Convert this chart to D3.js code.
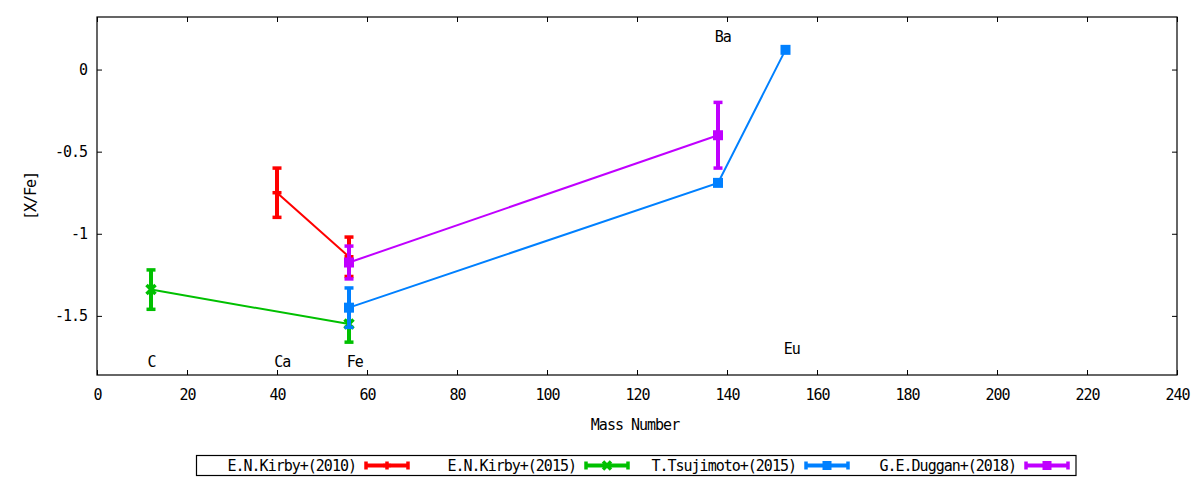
<!DOCTYPE html>
<html>
<head>
<meta charset="utf-8">
<script src="https://cdn.jsdelivr.net/npm/d3@7"></script>
<style>
  body { margin: 0; background: #fff; }
  text { font-family: "DejaVu Sans Mono", monospace; font-size: 15px; letter-spacing: -1px; fill: #000; }
</style>
</head>
<body>
<svg width="1200" height="480"></svg>
<script>
// element labels (placed at their mass numbers)
const elements = ["C", "Ca", "Fe", "Ba", "Eu"]
const labelMass = [11.2, 39.4, 55.5, 137.3, 152.6]
const labelValue = [-1.78, -1.78, -1.78, 0.2, -1.7]

// series
const seriesNames = ["E.N.Kirby+(2010)", "E.N.Kirby+(2015)", "T.Tsujimoto+(2015)", "G.E.Duggan+(2018)"]
const seriesColors = ["#ff0000", "#00c000", "#0080ff", "#c000ff"]
const seriesMarkers = ["plus", "cross", "square", "square"]

const kirby2010Mass = [40, 56]
const kirby2010Value = [-0.75, -1.14]
const kirby2010Err = [0.15, 0.12]

const kirby2015Mass = [12, 56]
const kirby2015Value = [-1.34, -1.55]
const kirby2015Err = [0.12, 0.11]

const tsujimotoMass = [56, 138, 153]
const tsujimotoValue = [-1.45, -0.69, 0.12]
const tsujimotoErr = [0.12, 0, 0]

const dugganMass = [56, 138]
const dugganValue = [-1.175, -0.40]
const dugganErr = [0.10, 0.20]

const xTicks = d3.range(0, 241, 20)
const yTicks = [0, -0.5, -1, -1.5]

let allSeries = [
  [kirby2010Mass, kirby2010Value, kirby2010Err],
  [kirby2015Mass, kirby2015Value, kirby2015Err],
  [tsujimotoMass, tsujimotoValue, tsujimotoErr],
  [dugganMass, dugganValue, dugganErr]
].map((s, i) => ({
  name: seriesNames[i], color: seriesColors[i], marker: seriesMarkers[i],
  points: s[0].map((m, j) => ({ x: m, y: s[1][j], e: s[2][j] }))
}))

let svg = d3.select("svg")
let pLeft = 97, pRight = 1177, pTop = 17, pBottom = 375

let x = d3.scaleLinear().domain([0, 240]).range([pLeft, pRight])
let y = d3.scaleLinear().domain([-1.86, 0.32]).range([pBottom, pTop])

// axes, ticks pointing inward and mirrored
svg.append("g")
  .attr("transform", "translate(0," + pBottom + ")")
  .call(d3.axisBottom(x).tickValues(xTicks).tickSize(-5).tickPadding(14).tickFormat(d => String(d)))
svg.append("g")
  .attr("transform", "translate(0," + pTop + ")")
  .call(d3.axisTop(x).tickValues(xTicks).tickSize(-5).tickFormat(""))
svg.append("g")
  .attr("transform", "translate(" + pLeft + ",0)")
  .call(d3.axisLeft(y).tickValues(yTicks).tickSize(-5).tickPadding(10).tickFormat(d => String(d)))
svg.append("g")
  .attr("transform", "translate(" + pRight + ",0)")
  .call(d3.axisRight(y).tickValues(yTicks).tickSize(-5).tickFormat(""))

svg.selectAll(".domain").remove()
svg.selectAll(".tick line").attr("stroke", "#000")
svg.selectAll(".tick text")
  .style("font-family", "'DejaVu Sans Mono', monospace")
  .style("font-size", "15px")
  .attr("fill", "#000")

svg.append("rect")
  .attr("x", pLeft).attr("y", pTop)
  .attr("width", pRight - pLeft).attr("height", pBottom - pTop)
  .attr("fill", "none").attr("stroke", "#000").attr("stroke-width", 1.2)

// axis titles
svg.append("text")
  .attr("x", 635).attr("y", 430)
  .attr("text-anchor", "middle")
  .text("Mass Number")

svg.append("text")
  .attr("transform", "translate(31," + ((pTop + pBottom) / 2) + ") rotate(-90)")
  .attr("text-anchor", "middle")
  .attr("dy", "0.35em")
  .text("[X/Fe]")

// element labels
svg.append("g").selectAll("text")
  .data(elements)
  .join("text")
  .attr("x", (d, i) => x(labelMass[i]))
  .attr("y", (d, i) => y(labelValue[i]))
  .attr("dy", "0.35em")
  .text(d => d)

let drawMarker = (g, type, cx, cy, color, size) => {
  if (type == "plus") {
    g.append("line").attr("x1", cx - size).attr("x2", cx + size).attr("y1", cy).attr("y2", cy)
      .attr("stroke", color).attr("stroke-width", 3.5)
    g.append("line").attr("x1", cx).attr("x2", cx).attr("y1", cy - size).attr("y2", cy + size)
      .attr("stroke", color).attr("stroke-width", 3.5)
  } else if (type == "cross") {
    g.append("path")
      .attr("d", "M" + (cx - size) + "," + (cy - size) + "L" + (cx + size) + "," + (cy + size) +
                 "M" + (cx - size) + "," + (cy + size) + "L" + (cx + size) + "," + (cy - size))
      .attr("stroke", color).attr("stroke-width", 3.5).attr("fill", "none")
  } else {
    g.append("rect").attr("x", cx - size).attr("y", cy - size)
      .attr("width", size * 2).attr("height", size * 2).attr("fill", color)
  }
}

let line = d3.line().x(d => x(d.x)).y(d => y(d.y))

allSeries.forEach(s => {
  let g = svg.append("g")
  g.append("path")
    .attr("d", line(s.points))
    .attr("fill", "none")
    .attr("stroke", s.color)
    .attr("stroke-width", 2)

  s.points.filter(p => p.e > 0).forEach(p => {
    let px = x(p.x)
    g.append("line")
      .attr("x1", px).attr("x2", px)
      .attr("y1", y(p.y + p.e)).attr("y2", y(p.y - p.e))
      .attr("stroke", s.color).attr("stroke-width", 4)
    ;[p.y + p.e, p.y - p.e].forEach(v => {
      g.append("line")
        .attr("x1", px - 4.5).attr("x2", px + 4.5)
        .attr("y1", y(v)).attr("y2", y(v))
        .attr("stroke", s.color).attr("stroke-width", 3.5)
    })
  })

  s.points.forEach(p => drawMarker(g, s.marker, x(p.x), y(p.y), s.color, s.marker == "square" ? 5 : 4.5))
})

// legend
svg.append("rect")
  .attr("x", 196.5).attr("y", 455.5)
  .attr("width", 879.5).attr("height", 20)
  .attr("fill", "none").attr("stroke", "#000").attr("stroke-width", 1.2)

allSeries.forEach((s, i) => {
  let ox = 220 * i
  let ly = 465.5
  let g = svg.append("g")
  g.append("text")
    .attr("x", 356 + ox).attr("y", ly)
    .attr("dy", "0.35em")
    .attr("text-anchor", "end")
    .text(s.name)
  g.append("line")
    .attr("x1", 366 + ox).attr("x2", 408 + ox).attr("y1", ly).attr("y2", ly)
    .attr("stroke", s.color).attr("stroke-width", 4)
  ;[366 + ox, 408 + ox].forEach(cx => {
    g.append("line")
      .attr("x1", cx).attr("x2", cx).attr("y1", ly - 4).attr("y2", ly + 4)
      .attr("stroke", s.color).attr("stroke-width", 3.5)
  })
  drawMarker(g, s.marker, 387 + ox, ly, s.color, s.marker == "square" ? 4.5 : 4)
})
</script>
</body>
</html>
